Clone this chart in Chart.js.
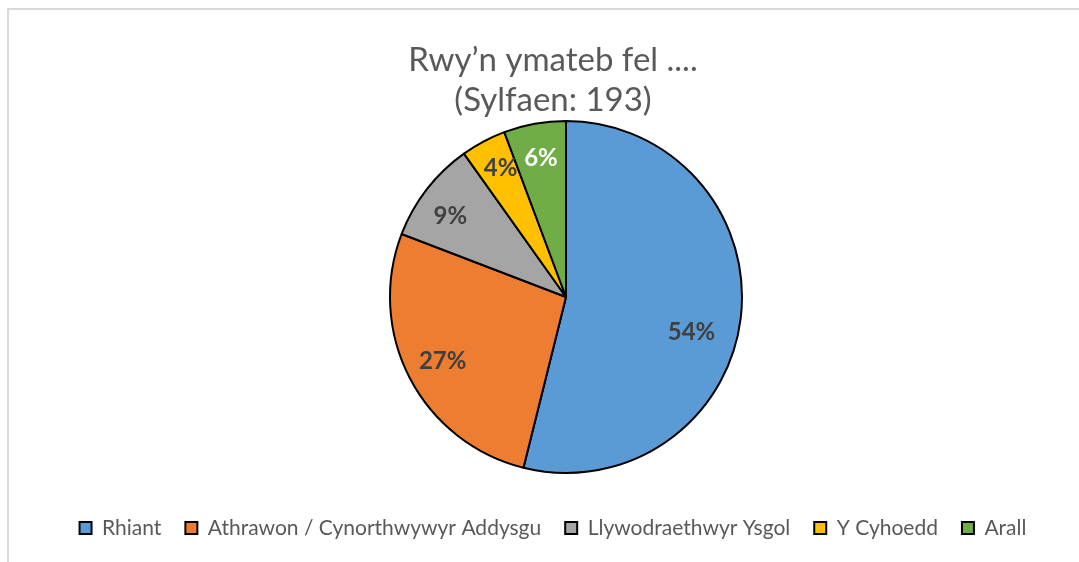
<!DOCTYPE html>
<html>
<head>
<meta charset="utf-8">
<script src="https://cdn.jsdelivr.net/npm/chart.js@4/dist/chart.umd.min.js"></script>
<style>
  html, body { margin: 0; padding: 0; background: #ffffff; }
  #frame {
    position: absolute; left: 7px; top: 8px; width: 1072px; height: 554px;
    border-left: 2px solid #d9d9d9; border-top: 2px solid #d9d9d9;
  }
  #chart { position: absolute; left: 0; top: 0; }
</style>
</head>
<body>
<div id="frame"></div>
<canvas id="chart" width="1079" height="562"></canvas>
<script>
var labels = ["Rhiant", "Athrawon / Cynorthwywyr Addysgu", "Llywodraethwyr Ysgol", "Y Cyhoedd", "Arall"];
var counts = [104, 52, 18, 8, 11];
var titleLines = ["Rwy’n ymateb fel ....", "(Sylfaen: 193)"];

var colours = ["#5B9BD5", "#ED7D31", "#A5A5A5", "#FFC000", "#70AD47"];
var labelColours = ["#404040", "#404040", "#404040", "#404040", "#ffffff"];
// where each percentage sits: share of the radius, and a small turn (degrees) off the slice middle
var labelRadius = [0.74, 0.79, 0.8, 0.82, 0.8];
var labelTurn = [8.5, 0, -3, 1, 0];

var pctLabels = {
    id: 'pctLabels',
    afterDatasetsDraw: function(chart) {
        var ctx = chart.ctx;
        var meta = chart.getDatasetMeta(0);
        var data = chart.data.datasets[0].data;
        var total = data.reduce(function(a, b) { return a + b; }, 0);
        ctx.save();
        ctx.font = "bold 24px Lato";
        ctx.textAlign = "center";
        ctx.textBaseline = "middle";
        meta.data.forEach(function(arc, i) {
            var mid = (arc.startAngle + arc.endAngle) / 2 + labelTurn[i] * Math.PI / 180;
            var r = arc.outerRadius * labelRadius[i];
            var x = arc.x + Math.cos(mid) * r;
            var y = arc.y + Math.sin(mid) * r;
            ctx.fillStyle = labelColours[i];
            ctx.fillText(Math.round(data[i] / total * 100) + "%", x, y);
        });
        ctx.restore();
    }
};

var ctx = document.getElementById("chart");
var myChart = new Chart(ctx, {
    type: 'pie',
    data: {
        labels: labels,
        datasets: [{
            data: counts,
            backgroundColor: colours,
            borderColor: "#000000",
            borderWidth: 2
        }]
    },
    options: {
        responsive: false,
        animation: false,
        layout: {
            padding: { left: 27, right: 0, top: 0, bottom: 13.5 }
        },
        plugins: {
            title: {
                display: true,
                text: titleLines,
                color: '#595959',
                font: { family: 'Lato', size: 33, weight: 'normal', lineHeight: 1.212 },
                padding: { top: 40, bottom: 0 }
            },
            // empty box on the left pushes the pie a little to the right
            subtitle: {
                display: true,
                text: ' ',
                position: 'left',
                fullSize: false,
                font: { size: 10, lineHeight: 1.2 },
                padding: 7
            },
            legend: {
                display: true,
                position: 'bottom',
                title: {
                    display: true,
                    text: ' ',
                    font: { size: 12, lineHeight: 1.2 },
                    padding: { top: 5.1, bottom: 0 }
                },
                labels: {
                    boxWidth: 12,
                    boxHeight: 12,
                    padding: 24,
                    color: '#595959',
                    font: { family: 'Lato', size: 21 }
                }
            },
            tooltip: { enabled: false }
        }
    },
    plugins: [pctLabels]
});
</script>
</body>
</html>
